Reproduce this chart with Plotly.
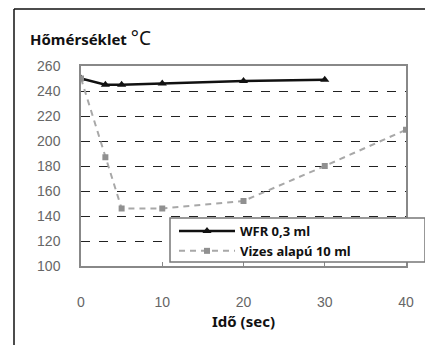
import plotly.graph_objects as go

# Idő (sec) / Hőmérséklet (°C)
wfr_t = [0, 3, 5, 10, 20, 30]
wfr_temp = [250, 245, 245, 246, 248, 249]

viz_t = [0, 3, 5, 10, 20, 30, 40]
viz_temp = [250, 187, 146, 146, 152, 180, 209]

y_ticks = [100, 120, 140, 160, 180, 200, 220, 240, 260]
x_ticks = [0, 10, 20, 30, 40]

fig = go.Figure()

fig.add_trace(go.Scatter(
    x=wfr_t, y=wfr_temp,
    name="<b>WFR 0,3 ml</b>",
    mode="lines+markers",
    line=dict(color="#111111", width=2.5),
    marker=dict(symbol="triangle-up", size=8, color="#111111"),
))

fig.add_trace(go.Scatter(
    x=viz_t, y=viz_temp,
    name="<b>Vizes alapú 10 ml</b>",
    mode="lines+markers",
    line=dict(color="#a8a8a8", width=2, dash="6px,5px"),
    marker=dict(symbol="square", size=6, color="#909090"),
))

# the page body adds an 8px offset, so plot area is 81..406 x 66..266 on screen
fx = (14 - 81) / 325
fy = (266 - 9) / 200
fig.add_shape(type="line", xref="paper", yref="paper",
              x0=fx, y0=fy, x1=1.2, y1=fy, line=dict(color="#111111", width=1.5))
fig.add_shape(type="line", xref="paper", yref="paper",
              x0=fx, y0=fy, x1=fx, y1=-0.5, line=dict(color="#111111", width=1.5))

# legend box drawn as a shape so it can be as wide as the original
fig.add_shape(type="rect", xref="paper", yref="paper", layer="above",
              x0=(170 - 81) / 325, x1=(425 - 81) / 325,
              y0=(266 - 262) / 200, y1=(266 - 218) / 200,
              fillcolor="white", line=dict(color="#777777", width=1.5))

fig.add_annotation(
    xref="paper", yref="paper", x=(28 - 81) / 325, y=(266 - 38) / 200,
    xanchor="left", yanchor="middle", showarrow=False,
    text="<b>Hőmérséklet</b> <span style='font-size:19px'>°C</span>",
    font=dict(family="Noto Sans", size=15, color="#111111"),
)

fig.update_layout(
    width=425, height=337,
    margin=dict(l=73, r=27, t=58, b=79),
    paper_bgcolor="white", plot_bgcolor="white",
    showlegend=True,
    legend=dict(
        x=(174 - 81) / 325, y=(266 - 216) / 200,
        xanchor="left", yanchor="top",
        bgcolor="rgba(0,0,0,0)", borderwidth=0,
        font=dict(family="Noto Sans", size=13, color="#111111"),
        itemwidth=56, tracegroupgap=0,
    ),
    xaxis=dict(
        range=[0, 40], tickvals=x_ticks, automargin=False,
        showgrid=False, zeroline=False,
        showline=True, linecolor="#888888", linewidth=1.5, mirror=True,
        ticks="inside", ticklen=4, tickcolor="#888888",
        ticklabelstandoff=22,
        tickfont=dict(family="Liberation Sans", size=14, color="#666666"),
        title=dict(text="<b>Idő (sec)</b>", standoff=8,
                   font=dict(family="Noto Sans", size=15, color="#111111")),
    ),
    yaxis=dict(
        range=[100, 260], tickvals=y_ticks, automargin=False,
        showgrid=True, gridcolor="#222222", griddash="dash", gridwidth=1,
        zeroline=False,
        showline=True, linecolor="#888888", linewidth=1.5, mirror=True,
        ticks="", ticklabelstandoff=16,
        tickfont=dict(family="Liberation Sans", size=14, color="#666666"),
    ),
)

fig.write_html("out.html")
